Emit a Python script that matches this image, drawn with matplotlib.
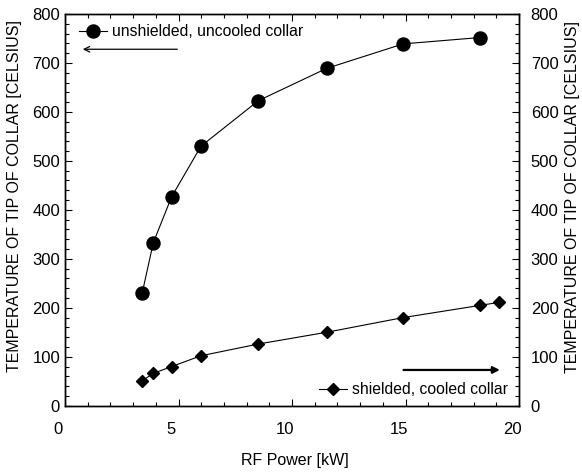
import matplotlib
matplotlib.use("Agg")
import matplotlib.pyplot as plt
import matplotlib.transforms as mtransforms
from matplotlib.ticker import MultipleLocator

plt.rcParams['font.family'] = ['Liberation Sans', 'DejaVu Sans']

# data
power_unshielded = [3.40, 3.89, 4.70, 5.99, 8.52, 11.53, 14.90, 18.30]
temp_unshielded = [230, 333, 427, 530, 623, 689, 739, 752]
power_shielded = [3.40, 3.89, 4.70, 5.99, 8.52, 11.53, 14.90, 18.30, 19.12]
temp_shielded = [51, 66, 80, 102, 126, 150, 180, 205, 211]

label_unshielded = "unshielded, uncooled collar"
label_shielded = "shielded, cooled collar"
xlabel = "RF Power [kW]"
ylabel = "TEMPERATURE OF TIP OF COLLAR [CELSIUS]"

W, H = 582, 472
fig = plt.figure(figsize=(W / 100, H / 100), dpi=100)
ax = fig.add_axes([65 / W, 1 - 405.7 / H, (519 - 65) / W, (405.7 - 14) / H])

l1, = ax.plot(power_unshielded, temp_unshielded, color='black', lw=0.8,
              marker='o', markersize=9.4, markerfacecolor='black',
              markeredgecolor='black')
l2, = ax.plot(power_shielded, temp_shielded, color='black', lw=0.8,
              marker='D', markersize=6.6, markerfacecolor='black',
              markeredgecolor='black')

ax.set_xlim(0, 20)
ax.set_ylim(0, 800)
ax.xaxis.set_major_locator(MultipleLocator(5))
ax.xaxis.set_minor_locator(MultipleLocator(1))
ax.yaxis.set_major_locator(MultipleLocator(100))
ax.yaxis.set_minor_locator(MultipleLocator(20))

ax2 = ax.twinx()
ax2.set_ylim(0, 800)
ax2.yaxis.set_major_locator(MultipleLocator(100))
ax2.yaxis.set_minor_locator(MultipleLocator(20))

for a in (ax, ax2):
    for s in a.spines.values():
        s.set_linewidth(1.0)
    a.tick_params(which='both', direction='in', labelsize=12, width=0.8)
    a.tick_params(which='major', length=5)
    a.tick_params(which='minor', length=3)
ax.tick_params(axis='x', which='both', top=True, pad=12)
ax.tick_params(axis='y', which='both', left=True, right=False, pad=3.6)
ax2.tick_params(axis='y', which='both', right=True, pad=8.4)

# shift x tick labels slightly left as in the reference
offset = mtransforms.ScaledTranslation(-7 / 100, 0, fig.dpi_scale_trans)
for lab in ax.get_xticklabels():
    lab.set_transform(lab.get_transform() + offset)

fig.text(295 / W, 1 - 460 / H, xlabel, fontsize=11.5, ha='center', va='center')
fig.text(15 / W, 1 - 196 / H, ylabel, fontsize=11.5, rotation=90,
         ha='center', va='center')
fig.text(573 / W, 1 - 197 / H, ylabel, fontsize=11.5, rotation=90,
         ha='center', va='center')

leg1 = fig.legend([l1], [label_unshielded], loc='center left',
                  bbox_to_anchor=(79 / W, 1 - 32 / H), frameon=False,
                  fontsize=11.3, borderpad=0, borderaxespad=0,
                  handlelength=1.8, handletextpad=0.3)
leg2 = fig.legend([l2], [label_shielded], loc='center left',
                  bbox_to_anchor=(319 / W, 1 - 390 / H), frameon=False,
                  fontsize=11.3, borderpad=0, borderaxespad=0,
                  handlelength=1.8, handletextpad=0.3)

ax.annotate("", xy=(0.66, 728), xytext=(5.07, 728),
            arrowprops=dict(arrowstyle='->', color='black', lw=0.9))
ax.annotate("", xy=(19.28, 73), xytext=(14.79, 73),
            arrowprops=dict(arrowstyle='-|>', color='black', lw=1.6,
                            mutation_scale=10))

fig.savefig("out.png", dpi=100)
